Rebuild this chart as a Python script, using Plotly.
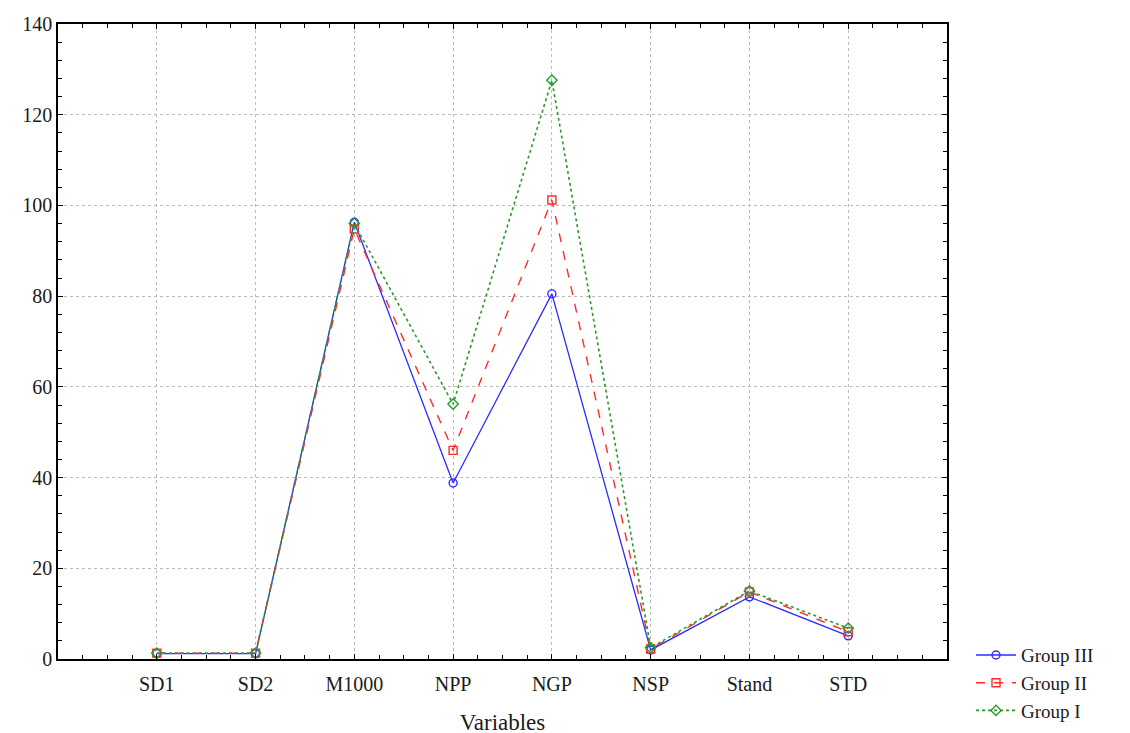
import plotly.graph_objects as go

categories = ["SD1", "SD2", "M1000", "NPP", "NGP", "NSP", "Stand", "STD"]
group_iii = [1.2, 1.2, 96.3, 38.8, 80.5, 2.0, 13.7, 5.1]
group_ii = [1.3, 1.3, 94.8, 46.0, 101.2, 2.2, 14.8, 6.0]
group_i = [1.3, 1.3, 96.0, 56.2, 127.6, 2.5, 15.0, 6.8]

x = list(range(len(categories)))
font = "Liberation Serif, Times New Roman, serif"

fig = go.Figure()
fig.add_trace(go.Scatter(x=x, y=group_iii, name="Group III", mode="lines+markers",
                         line=dict(color="#2b2bff", width=1.3, dash="solid"),
                         marker=dict(symbol="circle-open", size=8, color="#2b2bff", line=dict(width=1.4))))
fig.add_trace(go.Scatter(x=x, y=group_ii, name="Group II", mode="lines+markers",
                         line=dict(color="#ff2b2b", width=1.4, dash="dash"),
                         marker=dict(symbol="square-open", size=8, color="#ff2b2b", line=dict(width=1.4))))
fig.add_trace(go.Scatter(x=x, y=group_i, name="Group I", mode="lines+markers",
                         line=dict(color="#2a9a2a", width=1.6, dash="dot"),
                         marker=dict(symbol="diamond-open", size=8, color="#2a9a2a", line=dict(width=1.4))))

fig.update_layout(
    width=1130, height=733,
    margin=dict(l=50, r=191, t=16, b=82, autoexpand=False),
    plot_bgcolor="white", paper_bgcolor="white",
    font=dict(family=font, size=20, color="#1a1a1a"),
    showlegend=True,
    legend=dict(x=1.027, y=0.036, xanchor="left", yanchor="top",
                font=dict(family=font, size=19), tracegroupgap=0,
                itemwidth=40, bgcolor="rgba(0,0,0,0)"),
)
fig.update_xaxes(
    range=[-1, 8], tickvals=x, ticktext=categories,
    showgrid=True, gridcolor="#bbbbbb", griddash="dot", gridwidth=1,
    showline=True, linecolor="black", linewidth=1.5, mirror="allticks",
    ticks="inside", ticklen=5, tickcolor="black", ticklabelstandoff=6,
    minor=dict(dtick=0.25, ticks="inside", ticklen=4, tickcolor="black", showgrid=False),
    zeroline=False, automargin=False,
    title=dict(text="Variables", font=dict(family=font, size=23), standoff=20),
)
fig.update_yaxes(
    range=[0, 140], dtick=20,
    showgrid=True, gridcolor="#bbbbbb", griddash="dot", gridwidth=1,
    showline=True, linecolor="black", linewidth=1.5, mirror="allticks",
    ticks="inside", ticklen=5, tickcolor="black",
    minor=dict(dtick=4, ticks="inside", ticklen=4, tickcolor="black", showgrid=False),
    zeroline=False, automargin=False,
)

fig.write_html("out.html")
